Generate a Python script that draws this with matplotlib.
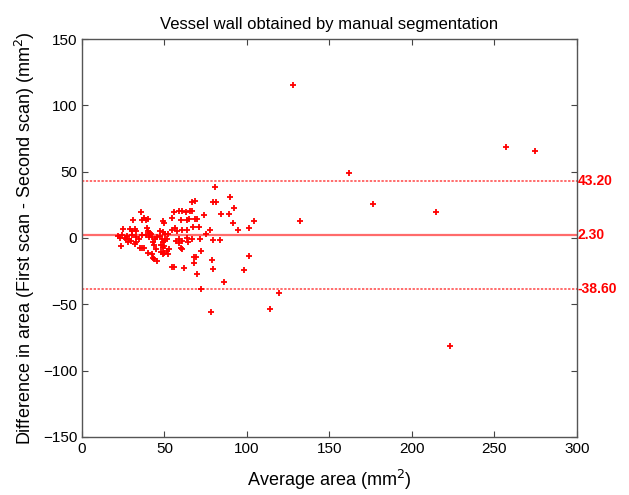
import matplotlib
matplotlib.use('Agg')
import matplotlib.pyplot as plt
import numpy as np

plt.rcParams['font.family'] = ['Liberation Sans', 'DejaVu Sans']

# average area (mm^2) and difference (mm^2)
avg = [22, 23.3, 24.5, 25.9, 27.1, 24.7, 23.7,
       28.3, 30.5, 32.5, 34.5, 36.5, 38.5, 40.5,
       26.5, 27.7, 29.6, 32, 32.8, 35.2, 36.6, 37.8,
       29.1, 30.5, 32, 32.6, 39.7, 40.3, 41.1, 41.9,
       36, 31.2, 36.4, 37.8, 39, 39.9,
       49.2, 50, 47.4, 48.8, 50.6, 52.4,
       54.6, 55.9, 58.5, 60.7, 63.1, 59.9, 63.6,
       54.8, 56.6, 57.7, 60.9, 63.6,
       42.3, 44.1, 45.7, 47.4, 42.9,
       48.4, 49.4, 50.6, 51.8,
       43.7, 44.9, 48.1, 50, 49.2,
       53, 51.4, 49.8, 52.4, 40.3, 42.3,
       42.9, 43.5, 45.7, 48, 48.8,
       54.4, 55.9,
       56.9, 58.7, 58.7, 60.5, 60.1, 60.9, 61.7, 63.7, 64.4,
       80.8, 89.9, 79.7, 81.4, 66.6, 68.4, 92.3, 84, 89,
       65.4, 66.6, 73.9, 65, 68.4, 69.6, 91.5, 104, 101.4, 94.5, 77.9, 71, 67.4, 75.1,
       66.4, 71.5, 79.5, 83.6, 72, 68.2, 69.2, 79, 101.2, 68, 70, 79.7, 98.4, 86, 72,
       78.1, 114, 119.2,
       128, 162, 132.4, 176.7, 214.9, 256.8, 274.4, 223.4]
diff = [1.3, 0.2, 2, 0.2, 1.3, 7, -6,
        -1, 2.5, 1, -0.5, 2, 2.5, 0.5,
        -1, -2.8, -2, -4.8, -3.3, -7.3, -7.3, -7.3,
        6.6, 5, 6.6, 5, 7.5, 5.5, 4, 3,
        19.4, 13.6, 13.6, 15, 13.6, 14.5,
        12.6, 11, 5, 4.5, 3.2, 3.2,
        15.3, 19.6, 20.4, 20.4, 19.6, 13.6, 13.6,
        5.8, 7.3, 5.3, 6.2, 5.8,
        1, -0.8, 1, 1.3, -2.8,
        -0.5, -3, -1.8, -0.5,
        -5.5, -8, -5, -6, -7.8,
        -8, -10, -11.5, -12.3, -11, -11.8,
        -14.8, -16, -17.6, -10.3, -12,
        -22, -21.6,
        -2.3, -0.8, -3.5, -2.3, -7.3, -8.5, -22.6, -0.2, -3.3,
        38.5, 30.7, 27.2, 27.2, 27, 28, 22.6, 17.9, 17.9,
        20, 20, 17.6, 14.3, 14.3, 14.3, 11.1, 13, 7.8, 6, 6, 8.3, 8.3, 2.8,
        -0.8, -1, -1.2, -1.2, -9.6, -14, -14, -16.8, -13.3, -18.6, -27, -23, -24.5, -33, -38.7,
        -55.6, -53.4, -41.5,
        115, 49, 12.8, 25.7, 19.6, 68.7, 65.7, -81.5]

mean_diff = 2.30
upper = 43.20
lower = -38.60

fig = plt.figure(figsize=(6.29, 4.95), dpi=100)
ax = fig.add_axes([0.1304, 0.1172, 0.7866, 0.804])

line_col = '#ff6b6b'
ax.axhline(mean_diff, color=line_col, lw=1.6, zorder=1)
ax.axhline(upper, color=line_col, lw=1.4, ls=(0, (1.2, 0.8)), zorder=1)
ax.axhline(lower, color=line_col, lw=1.4, ls=(0, (1.2, 0.8)), zorder=1)
ax.plot(avg, diff, '+', color='red', ms=4, mew=1.3, zorder=2)

for v in [upper, mean_diff, lower]:
    ax.text(1.002, v, '%.2f' % v, transform=ax.get_yaxis_transform(),
            color='red', fontsize=10, fontweight='bold', va='center', ha='left')

ax.set_xlim(0, 300)
ax.set_ylim(-150, 150)
ax.set_xticks(np.arange(0, 301, 50))
ax.set_yticks(np.arange(-150, 151, 50))
ax.tick_params(direction='in', top=True, right=True, labelsize=11, length=4, color='#444444')
for s in ax.spines.values():
    s.set_color('#555555')
    s.set_linewidth(1.0)

ax.set_title('Vessel wall obtained by manual segmentation', fontsize=12, pad=7)
ax.set_xlabel('Average area (mm$^2$)', fontsize=13, labelpad=9)
ax.set_ylabel('Difference in area (First scan - Second scan) (mm$^2$)', fontsize=13)

plt.savefig('out.png', dpi=100)
